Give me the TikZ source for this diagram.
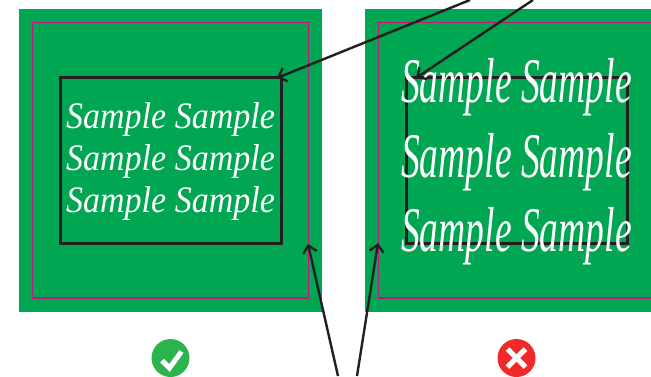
\documentclass[tikz,border=0pt]{standalone}
\usepackage{fontspec}
\setmainfont{Liberation Serif}
\usetikzlibrary{arrows.meta,calc}
\definecolor{bleedgreen}{HTML}{00A651}
\definecolor{trimpink}{HTML}{C4177B}
\definecolor{inkblack}{HTML}{231F20}
\definecolor{okgreen}{HTML}{2BB44B}
\definecolor{badred}{HTML}{F12A29}
\tikzset{
  greenbox/.style={fill=bleedgreen},
  trimbox/.style={draw=trimpink, line width=1.8pt},
  safebox/.style={draw=inkblack, line width=3pt},
  callout/.style={draw=inkblack, line width=2.4pt, -{Straight Barb[length=7pt,width=14pt]}},
  sample/.style={text=white, anchor=base, inner sep=0pt, font=\fontsize{34}{34}\selectfont\itshape},
  samplewide/.style={sample, transform shape, xscale=1.105, yscale=1.87},
  sampletall/.style={sample, transform shape, yscale=1.1},
  iconmark/.style={draw=white, line width=5pt}
}
\begin{document}
\begin{tikzpicture}[x=1pt,y=-1pt]
\useasboundingbox (0,0) rectangle (651,376);
\clip (0,0) rectangle (651,376);
% good panel
\fill[greenbox] (19,9) rectangle (322,312);
\draw[trimbox] (32.5,22.5) rectangle (308.5,298);
\node[safebox, minimum width=221pt, minimum height=166pt, inner sep=0pt] (goodsafe) at (170.5,160) {};
\node[sampletall] (goodline1) at (170.5,128) {Sample Sample};
\node[sampletall] (goodline2) at (170.5,170) {Sample Sample};
\node[sampletall] (goodline3) at (170.5,212) {Sample Sample};
% bad panel
\fill[greenbox] (365,9) rectangle (651,312);
\draw[trimbox] (660,22.5) -- (378.5,22.5) -- (378.5,298) -- (660,298);
\node[safebox, minimum width=221pt, minimum height=166pt, inner sep=0pt] (badsafe) at (516.5,160) {};
\node[samplewide] (badline1) at (516.5,102) {Sample Sample};
\node[samplewide] (badline2) at (516.5,177) {Sample Sample};
\node[samplewide] (badline3) at (516.5,251) {Sample Sample};
% callouts
\coordinate (topfree1) at (470,0);
\coordinate (topfree2) at (533,0);
\coordinate (botfree1) at (338,376);
\coordinate (botfree2) at (357,376);
\coordinate (goodcorner) at (277,78);
\coordinate (goodtrim) at (308,244);
\coordinate (badtrim) at (378,243);
\coordinate (badcorner) at (416,78);
\draw[callout] (topfree1) -- (goodcorner);
\draw[callout] (topfree2) -- (badcorner);
\draw[callout] (botfree1) -- (goodtrim);
\draw[callout] (botfree2) -- (badtrim);
% icons
\node[circle, fill=okgreen, minimum size=38pt, inner sep=0pt] (okicon) at (170.5,358) {};
\draw[iconmark] ($(okicon)+(-8.5,2.5)$) -- ($(okicon)+(-1,10)$) -- ($(okicon)+(11,-6.5)$);
\node[circle, fill=badred, minimum size=38pt, inner sep=0pt] (badicon) at (516.5,358) {};
\draw[iconmark] ($(badicon)+(-9,-9)$) -- ($(badicon)+(9,9)$);
\draw[iconmark] ($(badicon)+(9,-9)$) -- ($(badicon)+(-9,9)$);
\end{tikzpicture}
\end{document}
